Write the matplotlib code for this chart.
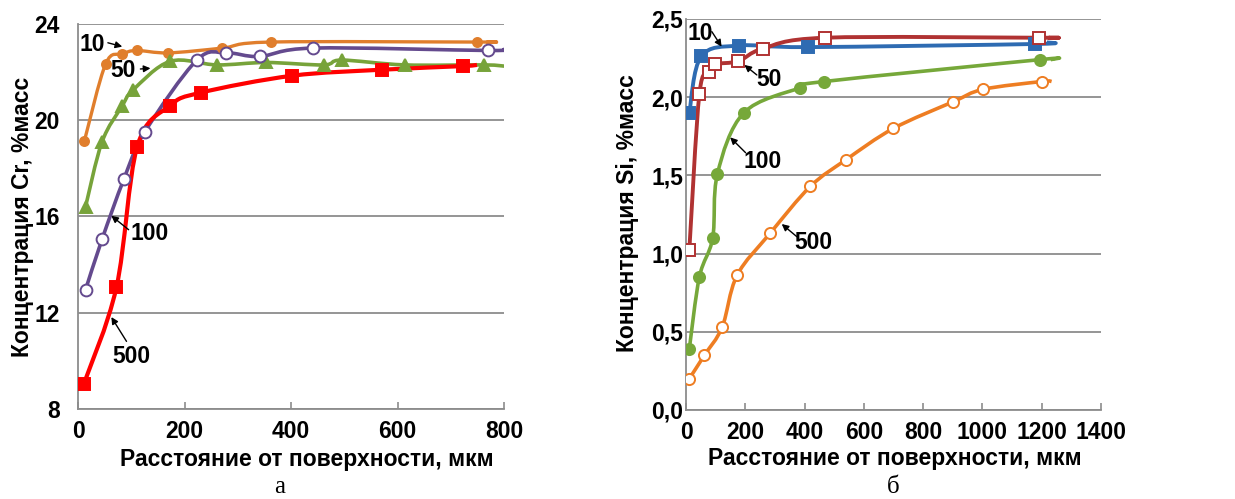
import numpy as np
import matplotlib
matplotlib.use("Agg")
import matplotlib.pyplot as plt
from matplotlib.path import Path
from matplotlib.patches import PathPatch

plt.rcParams['font.family'] = ['Liberation Sans', 'DejaVu Sans']
plt.rcParams['font.weight'] = 'bold'

# --- Cr profiles (panel a) ---
cr10_x = [12, 52, 83, 110, 169, 271, 362, 750, 770]
cr10_y = [19.15, 22.35, 22.75, 22.9, 22.8, 23.0, 23.25, 23.25, 23.25]
cr50_x = [14, 45, 83, 103, 173, 261, 353, 461, 495, 613, 762, 800]
cr50_y = [16.4, 19.1, 20.6, 21.25, 22.45, 22.3, 22.4, 22.3, 22.5, 22.3, 22.3, 22.25]
cr100_x = [14, 45, 86, 125, 223, 278, 341, 442, 769, 800]
cr100_y = [12.95, 15.05, 17.55, 19.5, 22.5, 22.8, 22.65, 23.0, 22.9, 22.95]
cr500_x = [11, 72, 111, 172, 231, 402, 570, 722, 749]
cr500_y = [9.05, 13.05, 18.9, 20.6, 21.15, 21.85, 22.1, 22.25, 22.3]

# --- Si profiles (panel b) ---
si10_x = [11, 51, 180, 412, 1178, 1218]
si10_y = [1.9, 2.26, 2.33, 2.32, 2.34, 2.35]
si50_x = [11, 45, 79, 98, 177, 259, 469, 1193, 1227]
si50_y = [1.02, 2.02, 2.16, 2.21, 2.23, 2.31, 2.38, 2.38, 2.38]
si100_x = [11, 45, 90, 106, 195, 385, 466, 1195, 1231]
si100_y = [0.39, 0.85, 1.1, 1.51, 1.9, 2.06, 2.1, 2.24, 2.24]
si500_x = [11, 62, 122, 172, 284, 420, 540, 700, 901, 1003, 1201, 1234]
si500_y = [0.2, 0.35, 0.53, 0.86, 1.13, 1.43, 1.6, 1.8, 1.97, 2.05, 2.1, 2.1]

cr_ticks_x = [0, 200, 400, 600, 800]
cr_ticks_y = [8, 12, 16, 20, 24]
si_ticks_x = [0, 200, 400, 600, 800, 1000, 1200, 1400]
si_ticks_y = [0.0, 0.5, 1.0, 1.5, 2.0, 2.5]

GRID = '#8c8c8c'
FS = 16.5


def smooth_line(ax, x, y, color, lw):
    # Excel-style smoothed line: Catmull-Rom -> cubic Bezier
    p = np.column_stack([x, y]).astype(float)
    verts = [p[0]]
    codes = [Path.MOVETO]
    n = len(p)
    for i in range(n - 1):
        p0 = p[i - 1] if i > 0 else p[i]
        p3 = p[i + 2] if i + 2 < n else p[i + 1]
        c1 = p[i] + (p[i + 1] - p0) / 6
        c2 = p[i + 1] - (p3 - p[i]) / 6
        verts += [c1, c2, p[i + 1]]
        codes += [Path.CURVE4] * 3
    ax.add_patch(PathPatch(Path(verts, codes), fill=False, edgecolor=color,
                           lw=lw, capstyle='butt', joinstyle='round', zorder=3))


def series(ax, x, y, color, marker, ms, face, lw=2.6):
    smooth_line(ax, x, y, color, lw)
    # last point is only the tail of the line, no marker
    ax.plot(x[:-1], y[:-1], ls='none', marker=marker, ms=ms, mfc=face,
            mec=color, mew=1.4, zorder=4)


def style(ax, xt, yt, ylim, ylab, yfmt, ypad, xlc, ylc):
    ax.set_xlim(xt[0], xt[-1])
    ax.set_ylim(*ylim)
    ax.set_xticks(xt)
    ax.set_yticks(yt)
    ax.set_yticklabels([yfmt(v) for v in yt])
    for s in ['top', 'right']:
        ax.spines[s].set_visible(False)
    for s in ['left', 'bottom']:
        ax.spines[s].set_color(GRID)
        ax.spines[s].set_linewidth(1.3)
    ax.yaxis.grid(True, color=GRID, lw=1.3)
    ax.set_axisbelow(True)
    ax.tick_params(axis='x', direction='in', length=5, width=1.2, color=GRID,
                   labelsize=FS, pad=8)
    ax.tick_params(axis='y', length=0, labelsize=FS, pad=ypad)
    ax.set_xlabel('Расстояние от поверхности, мкм', fontsize=FS, fontweight='bold', va='center')
    ax.set_ylabel(ylab, fontsize=FS, fontweight='bold', va='center')
    ax.xaxis.set_label_coords(*xlc)
    ax.yaxis.set_label_coords(*ylc)


def note(ax, text, pos, start, tip):
    ax.text(pos[0], pos[1], text, fontsize=FS, fontweight='bold',
            ha='center', va='center', zorder=5)
    ax.annotate('', xy=tip, xytext=start, zorder=5,
                arrowprops=dict(arrowstyle='-|>', color='black', lw=1.0,
                                mutation_scale=10, shrinkA=0, shrinkB=0))


fig = plt.figure(figsize=(12.35, 4.99), dpi=100)
ax1 = fig.add_axes([0.0632, 0.1804, 0.345, 0.7715])
ax2 = fig.add_axes([0.5555, 0.1784, 0.3358, 0.7836])

# panel a
series(ax1, cr10_x, cr10_y, '#E07E2C', 'o', 6.5, '#E07E2C', lw=2.4)
series(ax1, cr50_x, cr50_y, '#77A33A', '^', 8.5, '#77A33A')
series(ax1, cr100_x, cr100_y, '#644A8E', 'o', 8.5, 'white')
series(ax1, cr500_x, cr500_y, '#FF0000', 's', 9, '#FF0000', lw=3)
style(ax1, cr_ticks_x, cr_ticks_y, (8, 24), 'Концентрация Cr, %масс',
      lambda v: f'{v:g}', 13, (0.537, -0.13), (-0.131, 0.499))
note(ax1, '10', (27, 23.13), (56, 23.22), (83, 23.06))
note(ax1, '50', (85, 22.06), (117, 22.13), (136, 22.16))
note(ax1, '100', (134, 15.31), (95, 15.45), (62.5, 16.03))
note(ax1, '500', (101, 10.19), (91, 10.81), (62.5, 11.82))

# panel b
series(ax2, si10_x, si10_y, '#2E6BB2', 's', 9, '#2E6BB2', lw=2.8)
series(ax2, si50_x, si50_y, '#B03232', 's', 9, 'white', lw=2.8)
series(ax2, si100_x, si100_y, '#76A83A', 'o', 8, '#76A83A')
series(ax2, si500_x, si500_y, '#EE7D22', 'o', 8, 'white')
style(ax2, si_ticks_x, si_ticks_y, (0, 2.5), 'Концентрация Si, %масс',
      lambda v: f'{v:.1f}'.replace('.', ','), 2, (0.504, -0.125), (-0.14, 0.504))
note(ax2, '10', (48, 2.408), (87, 2.419), (120, 2.323))
note(ax2, '50', (281, 2.114), (239, 2.142), (197, 2.206))
note(ax2, '100', (257, 1.588), (201, 1.645), (149, 1.743))
note(ax2, '500', (431, 1.072), (374, 1.108), (323, 1.189))

fig.text(280 / 1235, 0.012, 'а', family=['Liberation Serif', 'DejaVu Serif'],
         fontsize=18, fontweight='normal', ha='center', va='baseline')
fig.text(893 / 1235, 0.012, 'б', family=['Liberation Serif', 'DejaVu Serif'],
         fontsize=18, fontweight='normal', ha='center', va='baseline')

fig.savefig('out.png', dpi=100)
